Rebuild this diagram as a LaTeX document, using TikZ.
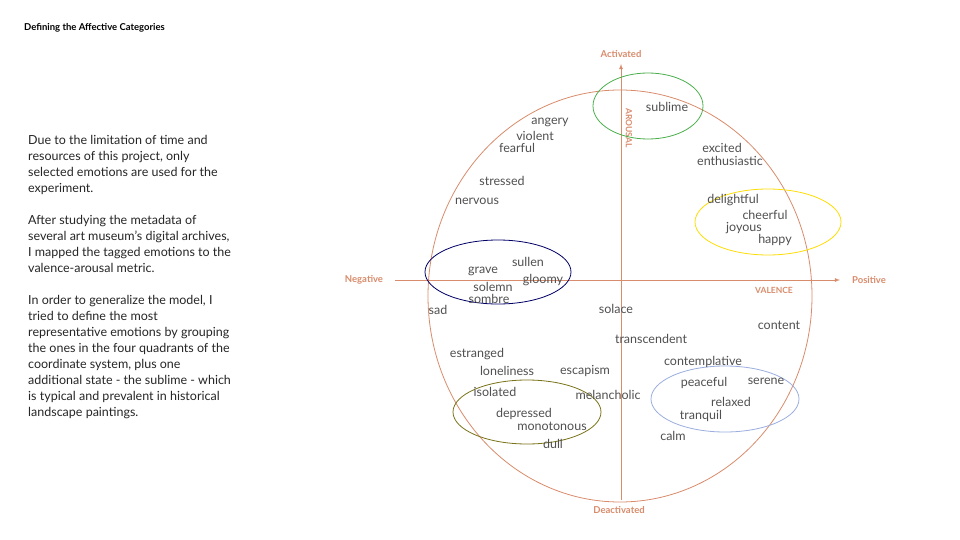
\documentclass[tikz,border=0pt]{standalone}
\usepackage{fontspec}
\setmainfont{Lato}
\usetikzlibrary{arrows}
\definecolor{axis}{HTML}{D98C6C}
\definecolor{word}{HTML}{505050}
\tikzset{>=latex,
    emo/.style = {text=word, font=\fontsize{12.5}{12.5}\selectfont, inner sep=0pt},
    axlabel/.style = {text=axis, font=\fontsize{9.5}{9.5}\selectfont\bfseries, inner sep=0pt},
    group/.style = {draw, line width=0.8pt}
}
\begin{document}
\begin{tikzpicture}[x=1pt,y=-1pt]
    \useasboundingbox [fill=white] (0,0) rectangle (960,540);
    \node [anchor=west, font=\fontsize{9.5}{9.5}\selectfont\bfseries, inner sep=0pt] (title) at (24,28) {Defining the Affective Categories};
    \node [anchor=north west, align=left, inner sep=0pt,
        font=\fontsize{12.5}{16}\selectfont, text=black!85] (desc) at (28,135)
        {Due to the limitation of time and\\ resources of this project, only\\ selected emotions are used for the\\ experiment.\\[16pt]
        After studying the metadata of\\ several art museum's digital archives,\\ I mapped the tagged emotions to the\\ valence-arousal metric.\\[16pt]
        In order to generalize the model, I\\ tried to define the most\\ representative emotions by grouping\\ the ones in the four quadrants of the\\ coordinate system, plus one\\ additional state - the sublime - which\\ is typical and prevalent in historical\\ landscape paintings.};
    % circle and axes
    \draw [axis, line width=0.8pt] (620,296) ellipse [x radius=192, y radius=206];
    \coordinate (left) at (395,280);
    \coordinate (right) at (840,280);
    \coordinate (bottom) at (621,500);
    \coordinate (top) at (621,64);
    \draw [axis, line width=0.8pt, ->] (left) -- (right);
    \draw [axis, line width=0.8pt, ->] (bottom) -- (top);
    \node [axlabel] (neg) at (364,280) {Negative};
    \node [axlabel] (pos) at (869,280) {Positive};
    \node [axlabel] (act) at (621,54) {Activated};
    \node [axlabel] (deact) at (619,510) {Deactivated};
    \node [axlabel, font=\fontsize{8.5}{8.5}\selectfont\bfseries] (val) at (774,290) {VALENCE};
    \node [axlabel, font=\fontsize{8.5}{8.5}\selectfont\bfseries, rotate=-90] (aro) at (629,128) {AROUSAL};
    % groups
    \draw [group, color=green!55!black!70] (648,106) ellipse [x radius=55, y radius=33];
    \draw [group, color=yellow!80!orange] (768,222) ellipse [x radius=73, y radius=33];
    \draw [group, color=blue!40!black] (498,272) ellipse [x radius=73, y radius=32];
    \draw [group, color=olive!80!black] (527,412) ellipse [x radius=74, y radius=32];
    \draw [group, color=cyan!40!blue!40] (725,399) ellipse [x radius=74, y radius=33];
    % emotions
    \foreach \name/\x/\y in {sublime/667/107, angery/550/122, violent/535/136, fearful/517/148,
        excited/722/148, enthusiastic/730/161, stressed/502/181, nervous/477/201,
        delightful/733/200, cheerful/765/215, joyous/744/228, happy/775/240,
        sullen/528/262, grave/483/271, gloomy/543/280, solemn/493/287, sombre/489/299,
        sad/438/310, solace/616/309, content/779/325, transcendent/651/339,
        estranged/477/354, contemplative/703/362, loneliness/507/371, escapism/585/371,
        serene/766/381, peaceful/704/383, isolated/495/392, melancholic/608/395,
        relaxed/731/402, depressed/524/414, tranquil/701/416, monotonous/552/426,
        calm/673/436, dull/553/444}
        \node [emo] (\name) at (\x,\y) {\name};
\end{tikzpicture}
\end{document}
